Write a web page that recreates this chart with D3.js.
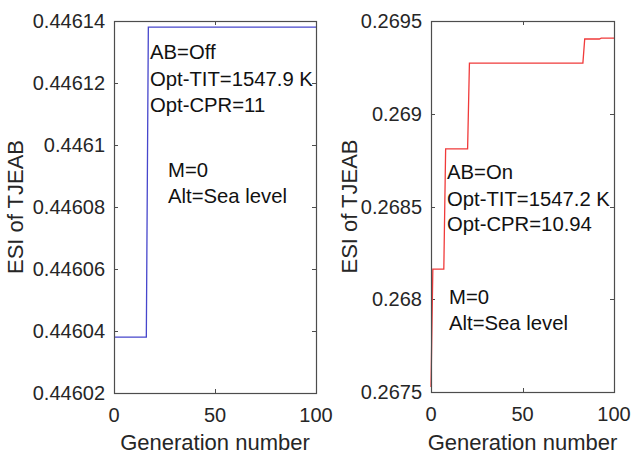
<!DOCTYPE html>
<html><head><meta charset="utf-8">
<script src="https://cdn.jsdelivr.net/npm/d3@7"></script>
<style>
body{margin:0;background:#fff;}
svg{display:block;font-family:"Liberation Sans",Arial,sans-serif;}
</style></head>
<body><svg id="c" width="633" height="455"></svg>
<script>
// Left panel (AB=Off): generation -> ESI
const leftGen  = [0, 16, 17, 100];
const leftESI  = [0.446038, 0.446038, 0.446138, 0.446138];
const leftYTicks = [0.44602, 0.44604, 0.44606, 0.44608, 0.4461, 0.44612, 0.44614];
const leftYLabels = ["0.44602","0.44604","0.44606","0.44608","0.4461","0.44612","0.44614"];
const leftNotes1 = ["AB=Off","Opt-TIT=1547.9 K","Opt-CPR=11"];
const leftNotes2 = ["M=0","Alt=Sea level"];

// Right panel (AB=On)
const rightGen = [0, 1, 7, 8, 20, 21, 83, 84, 92, 93, 100];
const rightESI = [0.267527, 0.268162, 0.268162, 0.268811, 0.268811, 0.269273, 0.269273, 0.269403, 0.269403, 0.269408, 0.269408];
const rightYTicks = [0.2675, 0.268, 0.2685, 0.269, 0.2695];
const rightYLabels = ["0.2675","0.268","0.2685","0.269","0.2695"];
const rightNotes1 = ["AB=On","Opt-TIT=1547.2 K","Opt-CPR=10.94"];
const rightNotes2 = ["M=0","Alt=Sea level"];

const xTicks = [0, 50, 100];
const xTitle = "Generation number";
const yTitle = "ESI of TJEAB";

const svg = d3.select("#c");
const axisCol = "#4d4d4d", textCol = "#262626";

function panel(o){
  const x = d3.scaleLinear().domain([0,100]).range([o.l, o.r]);
  const y = d3.scaleLinear().domain(o.dom).range([o.b, o.t]);
  const g = svg.append("g");
  o.yTicks.forEach((v,i)=>{
    const yy = Math.round(y(v))+0.5;
    g.append("line").attr("x1",o.l).attr("x2",o.l+4).attr("y1",yy).attr("y2",yy).attr("stroke",axisCol);
    g.append("line").attr("x1",o.r-4).attr("x2",o.r).attr("y1",yy).attr("y2",yy).attr("stroke",axisCol);
    g.append("text").attr("x",o.l-9).attr("y",y(v)+7).attr("text-anchor","end")
      .attr("font-size",20).attr("fill",textCol).text(o.yLabels[i]);
  });
  xTicks.forEach(v=>{
    const xx = Math.round(x(v))+0.5;
    g.append("line").attr("x1",xx).attr("x2",xx).attr("y1",o.b).attr("y2",o.b-4).attr("stroke",axisCol);
    g.append("line").attr("x1",xx).attr("x2",xx).attr("y1",o.t).attr("y2",o.t+4).attr("stroke",axisCol);
    g.append("text").attr("x",x(v)).attr("y",o.b+29).attr("text-anchor","middle")
      .attr("font-size",20).attr("fill",textCol).text(v);
  });
  const line = d3.line().x(d=>x(d[0])).y(d=>y(d[1]));
  g.append("path").datum(o.gen.map((d,i)=>[d,o.esi[i]])).attr("d",line)
    .attr("fill","none").attr("stroke",o.color).attr("stroke-width",1.3);
  g.append("rect").attr("x",o.l+0.5).attr("y",o.t+0.5).attr("width",o.r-o.l).attr("height",o.b-o.t)
    .attr("fill","none").attr("stroke",axisCol).attr("stroke-width",1.2);
  g.append("text").attr("x",(o.l+o.r)/2).attr("y",450).attr("text-anchor","middle")
    .attr("font-size",22).attr("fill",textCol).text(xTitle);
  g.append("text").attr("transform",`translate(${o.ytx},${(o.t+o.b)/2}) rotate(-90)`)
    .attr("text-anchor","middle").attr("font-size",22).attr("fill",textCol).text(yTitle);
  o.notes1.forEach((t,i)=>g.append("text").attr("x",o.n1x).attr("y",o.n1y[i]).attr("font-size",20.3).attr("fill","#111").text(t));
  o.notes2.forEach((t,i)=>g.append("text").attr("x",o.n2x).attr("y",o.n2y[i]).attr("font-size",20.3).attr("fill","#111").text(t));
}

panel({l:114,r:316,t:21,b:393,dom:[0.44602,0.44614],yTicks:leftYTicks,yLabels:leftYLabels,
  gen:leftGen,esi:leftESI,color:"#4646cc",ytx:23,
  notes1:leftNotes1,n1x:150,n1y:[59,86,112],notes2:leftNotes2,n2x:168,n2y:[177,203]});
panel({l:431,r:614,t:21,b:392,dom:[0.2675,0.2695],yTicks:rightYTicks,yLabels:rightYLabels,
  gen:rightGen,esi:rightESI,color:"#f03a3a",ytx:357,
  notes1:rightNotes1,n1x:447,n1y:[179,206,231],notes2:rightNotes2,n2x:449,n2y:[304,330]});
</script></body></html>
